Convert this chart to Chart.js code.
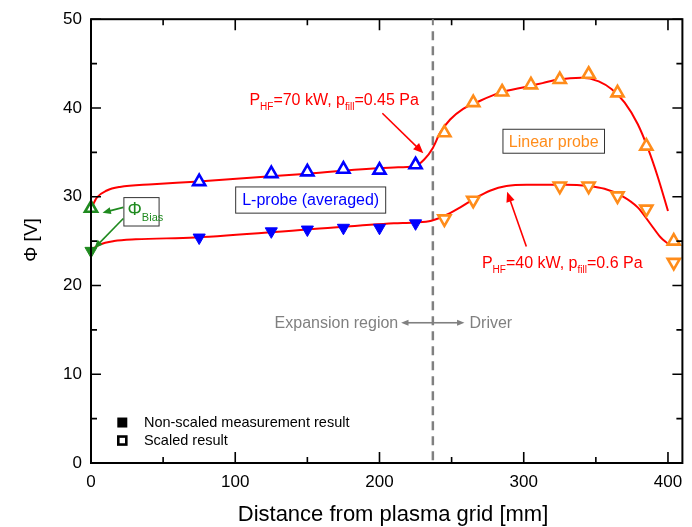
<!DOCTYPE html>
<html>
<head>
<meta charset="utf-8">
<script src="https://cdn.jsdelivr.net/npm/chart.js@4.4.1/dist/chart.umd.min.js"></script>
<style>
  body { margin: 0; background: #fff; }
  canvas { display: block; }
</style>
</head>
<body>
<canvas id="chart" width="692" height="527"></canvas>
<script>
const FONT = "'Liberation Sans', Arial, sans-serif";

const xTicks = [0, 100, 200, 300, 400];
const xMinor = [50, 150, 250, 350];
const yTicks = [0, 10, 20, 30, 40, 50];
const yMinor = [5, 15, 25, 35, 45];

// L-probe (averaged)
const lprobeX = [75, 125, 150, 175, 200, 225];
const lprobeScaled = [31.7, 32.6, 32.8, 33.1, 33.0, 33.6];
const lprobeRaw = [25.4, 26.1, 26.3, 26.5, 26.5, 27.0];

// bias potential at the grid
const biasX = [0];
const biasScaled = [28.7];
const biasRaw = [23.9];

// linear probe
const lin70X = [245, 265, 285, 305, 325, 345, 365, 385, 404];
const lin70 = [37.2, 40.6, 41.8, 42.6, 43.2, 43.8, 41.7, 35.7, 25.0];
const lin40X = [245, 265, 325, 345, 365, 385, 404];
const lin40 = [27.5, 29.6, 31.2, 31.2, 30.1, 28.6, 22.6];

// fit curves
const fit70X = [0, 4, 11, 20, 43, 72, 150, 210, 224, 231, 237, 242, 249, 258, 267, 283, 302, 313, 324, 340, 352, 361, 370, 379, 386, 393, 400];
const fit70 = [28.6, 29.9, 30.7, 31.1, 31.4, 31.7, 32.6, 33.3, 33.4, 34.2, 35.5, 37.2, 38.7, 39.9, 40.6, 41.7, 42.4, 42.8, 43.2, 43.4, 43.0, 42.1, 40.6, 38.2, 35.5, 32.2, 28.4];
const fit40X = [0, 6, 16, 31, 72, 150, 210, 224, 236, 247, 256, 265, 277, 288, 302, 329, 345, 356, 368, 379, 388, 395, 400];
const fit40 = [24.0, 24.6, 25.0, 25.2, 25.4, 26.3, 27.0, 27.1, 27.3, 28.0, 28.8, 29.7, 30.7, 31.2, 31.35, 31.35, 31.2, 30.9, 30.1, 28.8, 26.9, 25.4, 24.7];

const dividerX = 237;

const BLUE = "#0000ff";
const ORANGE = "#ff8c1a";
const GREEN = "#1f8a1f";
const RED = "#ff0000";
const GRAY = "#808080";

function pts(xs, ys) {
  return xs.map((x, i) => ({ x, y: ys[i] }));
}

function markers(xs, ys, color, filled, down) {
  return {
    data: pts(xs, ys),
    showLine: false,
    pointStyle: "triangle",
    rotation: down ? 180 : 0,
    radius: 7,
    hoverRadius: 7,
    borderWidth: filled ? 1 : 2.6,
    borderColor: color,
    backgroundColor: filled ? color : "#ffffff",
    clip: false,
    order: 1,
  };
}

function fitLine(xs, ys) {
  return {
    data: pts(xs, ys),
    showLine: true,
    borderColor: RED,
    borderWidth: 2,
    pointRadius: 0,
    cubicInterpolationMode: "monotone",
    fill: false,
    order: 2,
  };
}

function arrow(ctx, x1, y1, x2, y2, color, width, head) {
  const a = Math.atan2(y2 - y1, x2 - x1);
  ctx.save();
  ctx.strokeStyle = color;
  ctx.fillStyle = color;
  ctx.lineWidth = width;
  ctx.beginPath();
  ctx.moveTo(x1, y1);
  ctx.lineTo(x2 - Math.cos(a) * head * 0.6, y2 - Math.sin(a) * head * 0.6);
  ctx.stroke();
  ctx.beginPath();
  ctx.moveTo(x2, y2);
  ctx.lineTo(x2 - head * Math.cos(a - 0.4), y2 - head * Math.sin(a - 0.4));
  ctx.lineTo(x2 - head * Math.cos(a + 0.4), y2 - head * Math.sin(a + 0.4));
  ctx.closePath();
  ctx.fill();
  ctx.restore();
}

// draws text pieces with sub-scripts: [text, size, baselineShift]
function rich(ctx, parts, x, y, color) {
  ctx.save();
  ctx.fillStyle = color;
  ctx.textAlign = "left";
  ctx.textBaseline = "alphabetic";
  let cx = x;
  parts.forEach(([t, size, dy]) => {
    ctx.font = `${size}px ${FONT}`;
    ctx.fillText(t, cx, y + dy);
    cx += ctx.measureText(t).width;
  });
  ctx.restore();
}

function boxText(ctx, x1, y1, x2, y2, text, color) {
  ctx.save();
  ctx.fillStyle = "#fff";
  ctx.fillRect(x1, y1, x2 - x1, y2 - y1);
  ctx.strokeStyle = "#333";
  ctx.lineWidth = 1;
  ctx.strokeRect(x1, y1, x2 - x1, y2 - y1);
  if (text) {
    ctx.fillStyle = color;
    ctx.font = `16px ${FONT}`;
    ctx.textAlign = "center";
    ctx.textBaseline = "middle";
    ctx.fillText(text, (x1 + x2) / 2, (y1 + y2) / 2 + 1);
  }
  ctx.restore();
}

const overlay = {
  id: "overlay",
  beforeDatasetsDraw(chart) {
    const { ctx, chartArea: a, scales } = chart;
    const px = scales.x.getPixelForValue(dividerX);
    ctx.save();
    ctx.strokeStyle = GRAY;
    ctx.lineWidth = 2.5;
    ctx.setLineDash([9, 6]);
    ctx.beginPath();
    ctx.moveTo(px, a.top + 12);
    ctx.lineTo(px, a.bottom);
    ctx.stroke();
    ctx.restore();
  },
  afterDraw(chart) {
    const { ctx, chartArea: a, scales } = chart;
    const X = (v) => scales.x.getPixelForValue(v);
    const Y = (v) => scales.y.getPixelForValue(v);

    // frame and inward ticks
    ctx.save();
    ctx.strokeStyle = "#000";
    ctx.lineWidth = 2;
    ctx.strokeRect(a.left, a.top, a.right - a.left, a.bottom - a.top);
    ctx.lineWidth = 1.6;
    ctx.beginPath();
    const xt = (v, len) => {
      ctx.moveTo(X(v), a.bottom); ctx.lineTo(X(v), a.bottom - len);
      ctx.moveTo(X(v), a.top); ctx.lineTo(X(v), a.top + len);
    };
    const yt = (v, len) => {
      ctx.moveTo(a.left, Y(v)); ctx.lineTo(a.left + len, Y(v));
      ctx.moveTo(a.right, Y(v)); ctx.lineTo(a.right - len, Y(v));
    };
    xTicks.forEach((v) => xt(v, 11));
    xMinor.forEach((v) => xt(v, 6));
    yTicks.forEach((v) => yt(v, 10));
    yMinor.forEach((v) => yt(v, 6));
    ctx.stroke();
    ctx.restore();

    // dashed line tick on top axis
    ctx.save();
    ctx.strokeStyle = GRAY;
    ctx.lineWidth = 2;
    ctx.beginPath();
    ctx.moveTo(X(dividerX), a.top);
    ctx.lineTo(X(dividerX), a.top + 6);
    ctx.stroke();
    ctx.restore();

    // axis titles
    ctx.save();
    ctx.fillStyle = "#000";
    ctx.font = `22px ${FONT}`;
    ctx.textAlign = "center";
    ctx.textBaseline = "alphabetic";
    ctx.fillText("Distance from plasma grid [mm]", 393, 521);
    ctx.translate(37, 240);
    ctx.rotate(-Math.PI / 2);
    ctx.font = `19px ${FONT}`;
    ctx.fillText("\u03A6 [V]", 0, 0);
    ctx.restore();

    // parameter labels
    rich(ctx, [["P", 16, 0], ["HF", 10, 5], ["=70 kW, p", 16, 0], ["fill", 10, 5], ["=0.45 Pa", 16, 0]], X(109.8), Y(40.3), RED);
    arrow(ctx, X(202), Y(39.4), X(230.4), Y(34.9), RED, 1.6, 11);
    rich(ctx, [["P", 16, 0], ["HF", 10, 5], ["=40 kW, p", 16, 0], ["fill", 10, 5], ["=0.6 Pa", 16, 0]], X(271), Y(22.0), RED);
    arrow(ctx, X(301.8), Y(24.4), X(288.5), Y(30.55), RED, 1.6, 11);

    // boxes
    boxText(ctx, X(100.3), Y(31.1), X(204.3), Y(28.15), "L-probe (averaged)", BLUE);
    boxText(ctx, X(285.6), Y(37.6), X(356), Y(34.9), "Linear probe", ORANGE);
    boxText(ctx, X(22.8), Y(29.9), X(47.2), Y(26.7), null, GREEN);
    rich(ctx, [["\u03A6", 18, 0], ["Bias", 11, 6]], X(25.3), Y(27.9), GREEN);
    arrow(ctx, X(22.4), Y(28.8), X(8), Y(28.2), GREEN, 1.6, 9);
    arrow(ctx, X(22.4), Y(27.55), X(2.3), Y(24.2), GREEN, 1.6, 9);

    // region labels
    ctx.save();
    ctx.fillStyle = GRAY;
    ctx.font = `16px ${FONT}`;
    ctx.textBaseline = "alphabetic";
    ctx.textAlign = "right";
    ctx.fillText("Expansion region", X(213), Y(15.2));
    ctx.textAlign = "left";
    ctx.fillText("Driver", X(262.4), Y(15.2));
    ctx.restore();
    const ay = Y(15.8);
    arrow(ctx, X(dividerX), ay, X(215), ay, GRAY, 1.6, 8);
    arrow(ctx, X(dividerX), ay, X(258.9), ay, GRAY, 1.6, 8);

    // legend
    ctx.save();
    ctx.fillStyle = "#000";
    ctx.fillRect(X(21.7) - 5, Y(4.56) - 5, 10, 10);
    ctx.strokeStyle = "#000";
    ctx.lineWidth = 2.6;
    ctx.strokeRect(X(21.7) - 4, Y(2.53) - 4, 8, 8);
    ctx.font = `14.5px ${FONT}`;
    ctx.textBaseline = "middle";
    ctx.textAlign = "left";
    ctx.fillText("Non-scaled measurement result", X(36.7), Y(4.56));
    ctx.fillText("Scaled result", X(36.7), Y(2.53));
    ctx.restore();
  },
};

new Chart(document.getElementById("chart"), {
  type: "scatter",
  data: {
    datasets: [
      fitLine(fit70X, fit70),
      fitLine(fit40X, fit40),
      markers(lprobeX, lprobeScaled, BLUE, false, false),
      markers(lprobeX, lprobeRaw, BLUE, true, true),
      markers(biasX, biasScaled, GREEN, false, false),
      markers(biasX, biasRaw, GREEN, true, true),
      markers(lin70X, lin70, ORANGE, false, false),
      markers(lin40X, lin40, ORANGE, false, true),
    ],
  },
  options: {
    responsive: false,
    animation: false,
    devicePixelRatio: 1,
    layout: { padding: { top: 19, right: 1, left: 0, bottom: 0 } },
    plugins: { legend: { display: false }, tooltip: { enabled: false } },
    scales: {
      x: {
        type: "linear",
        min: 0,
        max: 410,
        afterBuildTicks: (s) => { s.ticks = xTicks.map((v) => ({ value: v })); },
        afterFit: (s) => { s.height = 64; },
        grid: { display: false, drawTicks: false },
        border: { display: false },
        ticks: { color: "#000", font: { size: 17, family: FONT }, padding: 9, maxRotation: 0 },
      },
      y: {
        type: "linear",
        min: 0,
        max: 50,
        afterBuildTicks: (s) => { s.ticks = yTicks.map((v) => ({ value: v })); },
        afterFit: (s) => { s.width = 91; },
        grid: { display: false, drawTicks: false },
        border: { display: false },
        ticks: { color: "#000", font: { size: 17, family: FONT }, padding: 9 },
      },
    },
  },
  plugins: [overlay],
});
</script>
</body>
</html>
